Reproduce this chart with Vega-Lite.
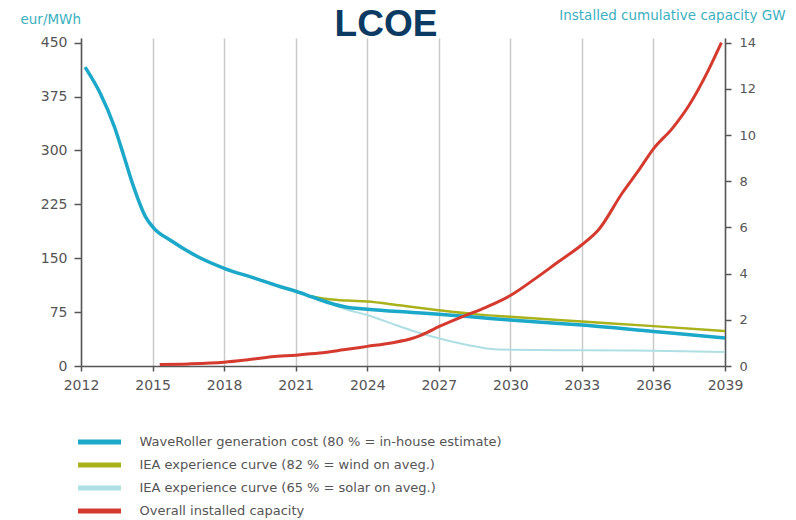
{
  "$schema": "https://vega.github.io/schema/vega-lite/v6.json",
  "width": 644,
  "height": 328,
  "autosize": {"type": "none"},
  "padding": {"left": 81, "top": 38, "right": 71, "bottom": 154},
  "background": "white",
  "title": {"text": "LCOE", "font": "Liberation Sans", "fontSize": 37, "fontWeight": "bold", "color": "#0b3a62", "frame": "group", "anchor": "middle", "dx": -17, "dy": 65, "offset": 0, "baseline": "alphabetic"},
  "datasets": {
    "lcoe": [
      {"series": "IEA experience curve (65 % = solar on aveg.)", "year": 2021.5, "value": 97.5},
      {"series": "IEA experience curve (65 % = solar on aveg.)", "year": 2022.4, "value": 87.5},
      {"series": "IEA experience curve (65 % = solar on aveg.)", "year": 2023.1, "value": 79},
      {"series": "IEA experience curve (65 % = solar on aveg.)", "year": 2024, "value": 71},
      {"series": "IEA experience curve (65 % = solar on aveg.)", "year": 2025.2, "value": 57},
      {"series": "IEA experience curve (65 % = solar on aveg.)", "year": 2026, "value": 48},
      {"series": "IEA experience curve (65 % = solar on aveg.)", "year": 2027, "value": 38.6},
      {"series": "IEA experience curve (65 % = solar on aveg.)", "year": 2028, "value": 30.6},
      {"series": "IEA experience curve (65 % = solar on aveg.)", "year": 2029, "value": 24.5},
      {"series": "IEA experience curve (65 % = solar on aveg.)", "year": 2030, "value": 22.5},
      {"series": "IEA experience curve (65 % = solar on aveg.)", "year": 2033, "value": 21.8},
      {"series": "IEA experience curve (65 % = solar on aveg.)", "year": 2036, "value": 21.3},
      {"series": "IEA experience curve (65 % = solar on aveg.)", "year": 2039, "value": 19.5},
      {"series": "IEA experience curve (82 % = wind on aveg.)", "year": 2021.5, "value": 97.5},
      {"series": "IEA experience curve (82 % = wind on aveg.)", "year": 2022.4, "value": 93},
      {"series": "IEA experience curve (82 % = wind on aveg.)", "year": 2023.2, "value": 91},
      {"series": "IEA experience curve (82 % = wind on aveg.)", "year": 2024, "value": 89.6},
      {"series": "IEA experience curve (82 % = wind on aveg.)", "year": 2025, "value": 86},
      {"series": "IEA experience curve (82 % = wind on aveg.)", "year": 2025.9, "value": 82},
      {"series": "IEA experience curve (82 % = wind on aveg.)", "year": 2027, "value": 77.5},
      {"series": "IEA experience curve (82 % = wind on aveg.)", "year": 2028.7, "value": 71.5},
      {"series": "IEA experience curve (82 % = wind on aveg.)", "year": 2030, "value": 68.5},
      {"series": "IEA experience curve (82 % = wind on aveg.)", "year": 2033, "value": 62},
      {"series": "IEA experience curve (82 % = wind on aveg.)", "year": 2036, "value": 55.5},
      {"series": "IEA experience curve (82 % = wind on aveg.)", "year": 2039, "value": 48.5},
      {"series": "WaveRoller generation cost (80 % = in-house estimate)", "year": 2012.17, "value": 416},
      {"series": "WaveRoller generation cost (80 % = in-house estimate)", "year": 2012.8, "value": 380},
      {"series": "WaveRoller generation cost (80 % = in-house estimate)", "year": 2013.4, "value": 333},
      {"series": "WaveRoller generation cost (80 % = in-house estimate)", "year": 2013.8, "value": 292},
      {"series": "WaveRoller generation cost (80 % = in-house estimate)", "year": 2014.2, "value": 250},
      {"series": "WaveRoller generation cost (80 % = in-house estimate)", "year": 2014.7, "value": 208},
      {"series": "WaveRoller generation cost (80 % = in-house estimate)", "year": 2015.05, "value": 192},
      {"series": "WaveRoller generation cost (80 % = in-house estimate)", "year": 2015.75, "value": 175},
      {"series": "WaveRoller generation cost (80 % = in-house estimate)", "year": 2016.9, "value": 152},
      {"series": "WaveRoller generation cost (80 % = in-house estimate)", "year": 2018, "value": 136},
      {"series": "WaveRoller generation cost (80 % = in-house estimate)", "year": 2019.3, "value": 122},
      {"series": "WaveRoller generation cost (80 % = in-house estimate)", "year": 2020.3, "value": 111},
      {"series": "WaveRoller generation cost (80 % = in-house estimate)", "year": 2021, "value": 104},
      {"series": "WaveRoller generation cost (80 % = in-house estimate)", "year": 2021.7, "value": 96},
      {"series": "WaveRoller generation cost (80 % = in-house estimate)", "year": 2022.4, "value": 88},
      {"series": "WaveRoller generation cost (80 % = in-house estimate)", "year": 2023.1, "value": 82},
      {"series": "WaveRoller generation cost (80 % = in-house estimate)", "year": 2024, "value": 79},
      {"series": "WaveRoller generation cost (80 % = in-house estimate)", "year": 2025.9, "value": 74.5},
      {"series": "WaveRoller generation cost (80 % = in-house estimate)", "year": 2027, "value": 72},
      {"series": "WaveRoller generation cost (80 % = in-house estimate)", "year": 2028.7, "value": 67.5},
      {"series": "WaveRoller generation cost (80 % = in-house estimate)", "year": 2030, "value": 64},
      {"series": "WaveRoller generation cost (80 % = in-house estimate)", "year": 2031, "value": 61.5},
      {"series": "WaveRoller generation cost (80 % = in-house estimate)", "year": 2033, "value": 57},
      {"series": "WaveRoller generation cost (80 % = in-house estimate)", "year": 2036, "value": 48},
      {"series": "WaveRoller generation cost (80 % = in-house estimate)", "year": 2039, "value": 39}
    ],
    "capacity": [
      {"series": "Overall installed capacity", "year": 2015.3, "cap": 0.07},
      {"series": "Overall installed capacity", "year": 2016.5, "cap": 0.09},
      {"series": "Overall installed capacity", "year": 2018, "cap": 0.16},
      {"series": "Overall installed capacity", "year": 2019, "cap": 0.27},
      {"series": "Overall installed capacity", "year": 2020, "cap": 0.4},
      {"series": "Overall installed capacity", "year": 2021, "cap": 0.47},
      {"series": "Overall installed capacity", "year": 2022, "cap": 0.56},
      {"series": "Overall installed capacity", "year": 2023, "cap": 0.7},
      {"series": "Overall installed capacity", "year": 2024, "cap": 0.85},
      {"series": "Overall installed capacity", "year": 2025, "cap": 1.0},
      {"series": "Overall installed capacity", "year": 2025.9, "cap": 1.2},
      {"series": "Overall installed capacity", "year": 2026.5, "cap": 1.45},
      {"series": "Overall installed capacity", "year": 2027, "cap": 1.7},
      {"series": "Overall installed capacity", "year": 2028, "cap": 2.14},
      {"series": "Overall installed capacity", "year": 2029, "cap": 2.55},
      {"series": "Overall installed capacity", "year": 2030, "cap": 3.05},
      {"series": "Overall installed capacity", "year": 2031, "cap": 3.75},
      {"series": "Overall installed capacity", "year": 2032, "cap": 4.5},
      {"series": "Overall installed capacity", "year": 2033, "cap": 5.25},
      {"series": "Overall installed capacity", "year": 2033.7, "cap": 5.9},
      {"series": "Overall installed capacity", "year": 2034.7, "cap": 7.5},
      {"series": "Overall installed capacity", "year": 2035.4, "cap": 8.5},
      {"series": "Overall installed capacity", "year": 2036, "cap": 9.4},
      {"series": "Overall installed capacity", "year": 2036.8, "cap": 10.3},
      {"series": "Overall installed capacity", "year": 2037.5, "cap": 11.3},
      {"series": "Overall installed capacity", "year": 2038.3, "cap": 12.8},
      {"series": "Overall installed capacity", "year": 2038.85, "cap": 14.0}
    ]
  },
  "encoding": {
    "x": {
      "field": "year", "type": "quantitative",
      "scale": {"domain": [2012, 2039], "nice": false, "zero": false},
      "axis": {"title": null, "values": [2012, 2015, 2018, 2021, 2024, 2027, 2030, 2033, 2036, 2039], "format": "d", "grid": true, "gridColor": "#c9c9c9", "gridWidth": 1.5, "tickSize": 5, "labelPadding": 7, "labelFlush": false}
    },
    "color": {
      "field": "series", "type": "nominal",
      "scale": {
        "domain": ["WaveRoller generation cost (80 % = in-house estimate)", "IEA experience curve (82 % = wind on aveg.)", "IEA experience curve (65 % = solar on aveg.)", "Overall installed capacity"],
        "range": ["#1ba8c9", "#a9b21a", "#aedfe4", "#d53a2e"]
      },
      "legend": {"title": null, "orient": "none", "legendX": 10.5, "legendY": 396, "direction": "vertical", "symbolType": "M-4,0H4", "symbolSize": 115.6, "symbolStrokeWidth": 5, "labelFont": "DejaVu Sans", "labelFontSize": 13, "labelColor": "#555555", "labelOffset": 32, "rowPadding": 3, "padding": 0, "labelLimit": 600}
    }
  },
  "layer": [
    {
      "data": {"name": "lcoe"},
      "encoding": {
        "y": {
          "field": "value", "type": "quantitative",
          "scale": {"domain": [0, 456.5], "nice": false},
          "axis": {"title": "eur/MWh", "values": [0, 75, 150, 225, 300, 375, 450], "grid": false, "tickSize": 7, "labelPadding": 7, "labelFontSize": 14, "labelFlush": false, "titleAngle": 0, "titleAlign": "left", "titleBaseline": "middle", "titleX": -61, "titleY": -19}
        }
      },
      "layer": [
        {"transform": [{"filter": "datum.series === 'IEA experience curve (65 % = solar on aveg.)'"}], "mark": {"type": "line", "interpolate": "monotone", "strokeWidth": 2}},
        {"transform": [{"filter": "datum.series === 'IEA experience curve (82 % = wind on aveg.)'"}], "mark": {"type": "line", "interpolate": "monotone", "strokeWidth": 2.5}},
        {"transform": [{"filter": "datum.series === 'WaveRoller generation cost (80 % = in-house estimate)'"}], "mark": {"type": "line", "interpolate": "monotone", "strokeWidth": 3.5}}
      ]
    },
    {
      "data": {"name": "capacity"},
      "mark": {"type": "line", "interpolate": "monotone", "strokeWidth": 3},
      "encoding": {
        "y": {
          "field": "cap", "type": "quantitative",
          "scale": {"domain": [0, 14.2], "nice": false},
          "axis": {"orient": "right", "title": "Installed cumulative capacity GW", "values": [0, 2, 4, 6, 8, 10, 12, 14], "grid": false, "tickSize": 6, "labelPadding": 8, "labelFontSize": 13, "labelFlush": false, "titleAngle": 0, "titleAlign": "right", "titleBaseline": "middle", "titleX": 60, "titleY": -23}
        }
      }
    }
  ],
  "resolve": {"scale": {"y": "independent"}},
  "config": {
    "view": {"stroke": null},
    "axis": {"domainColor": "#555555", "domainWidth": 1.5, "tickColor": "#555555", "tickWidth": 1.5, "labelFont": "DejaVu Sans", "labelFontSize": 14, "labelColor": "#555555", "titleFont": "DejaVu Sans", "titleFontSize": 13.5, "titleFontWeight": "normal", "titleColor": "#3ab0c0"}
  }
}
